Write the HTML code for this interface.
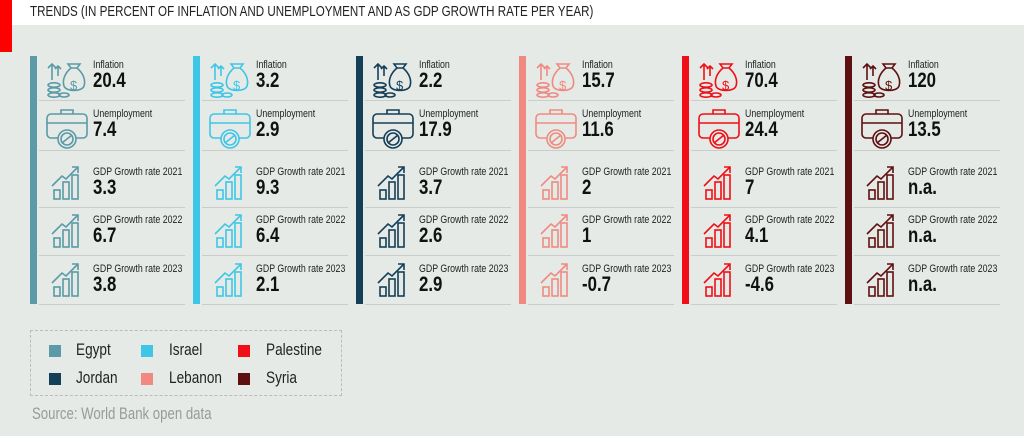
<!DOCTYPE html><html><head><meta charset="utf-8"><style>
body{margin:0;width:1024px;height:436px;overflow:hidden;background:#e5eae7;font-family:"Liberation Sans",sans-serif;position:relative}
.n{transform:scaleX(0.8);transform-origin:0 0;white-space:nowrap}
.hdr{position:absolute;left:0;top:0;width:1024px;height:25px;background:#fff}
.red{position:absolute;left:0;top:0;width:12px;height:52px;background:#f00}
.title{position:absolute;left:30px;top:4px;font-size:14.5px;color:#222}
.col{position:absolute;top:56px;width:160px;height:248px}
.bar{position:absolute;left:0;top:0;width:7px;height:248px}
.sep{position:absolute;left:9px;width:146px;height:1px;background:#c9ceca}
.lab{position:absolute;left:63px;font-size:11px;color:#222}
.val{position:absolute;left:63px;font-size:21px;font-weight:bold;color:#111}
svg.ic{position:absolute;left:14px}
.legend{position:absolute;left:30px;top:330px;width:312px;height:66px;border:1px dashed #bbb;box-sizing:border-box}
.lg{position:absolute;font-size:17px;color:#222}
.sw{position:absolute;width:12px;height:12px}
.src{position:absolute;left:32px;top:405px;font-size:16.5px;color:#999}
</style></head><body>
<div class="hdr"></div><div class="red"></div>
<div class="title n">TRENDS (IN PERCENT OF INFLATION AND UNEMPLOYMENT AND AS GDP GROWTH RATE PER YEAR)</div>
<div id="cols"></div>
<div class="legend">
<div class="sw" style="left:18px;top:14px;background:#5b9aa6"></div><div class="lg n" style="left:45px;top:9px">Egypt</div>
<div class="sw" style="left:110px;top:14px;background:#3ec6e6"></div><div class="lg n" style="left:138px;top:9px">Israel</div>
<div class="sw" style="left:207px;top:14px;background:#f00f16"></div><div class="lg n" style="left:235px;top:9px">Palestine</div>
<div class="sw" style="left:18px;top:42px;background:#143f57"></div><div class="lg n" style="left:45px;top:37px">Jordan</div>
<div class="sw" style="left:110px;top:42px;background:#f08a80"></div><div class="lg n" style="left:138px;top:37px">Lebanon</div>
<div class="sw" style="left:207px;top:42px;background:#5e1010"></div><div class="lg n" style="left:235px;top:37px">Syria</div>
</div>
<div class="src n">Source: World Bank open data</div>
<script>
var d=[["#5b9aa6","20.4","7.4","3.3","6.7","3.8"],["#3ec6e6","3.2","2.9","9.3","6.4","2.1"],["#143f57","2.2","17.9","3.7","2.6","2.9"],["#f08a80","15.7","11.6","2","1","-0.7"],["#f00f16","70.4","24.4","7","4.1","-4.6"],["#5e1010","120","13.5","n.a.","n.a.","n.a."]];
var h="";
d.forEach(function(c,i){var x=30+i*163,k=c[0];
function bag(){return '<svg class="ic" style="top:2px" width="46" height="42" viewBox="0 0 46 42" fill="none" stroke="'+k+'" stroke-width="1.6"><path d="M8 22V6M4 10l4-4 4 4M14 18V8M11 11l3-3 3 3"/><path d="M24 6l3 4h6l3-4zM27 10c-6 5-9 12-7 18 2 6 18 6 20 0 2-6-1-13-7-18"/><text x="26" y="32" font-size="13" fill="'+k+'" stroke="none" font-family="Liberation Sans">$</text><ellipse cx="10" cy="27" rx="6" ry="2.2"/><ellipse cx="10" cy="32" rx="6" ry="2.2"/><ellipse cx="10" cy="37" rx="6" ry="2.2"/><ellipse cx="20" cy="37" rx="5" ry="2"/></svg>';}
function case_(){return '<svg class="ic" style="top:50px" width="46" height="44" viewBox="0 0 46 44" fill="none" stroke="'+k+'" stroke-width="1.6"><path d="M17 8V4h12v4"/><rect x="3" y="8" width="40" height="24" rx="4"/><path d="M3 17h40"/><circle cx="23" cy="33" r="9" fill="#e5eae7"/><circle cx="23" cy="33" r="6"/><path d="M18 37l10-8"/></svg>';}
function chart(t){return '<svg class="ic" style="top:'+t+'px" width="46" height="38" viewBox="0 0 46 38" fill="none" stroke="'+k+'" stroke-width="1.6"><rect x="10" y="26" width="6" height="9"/><rect x="19" y="18" width="6" height="17"/><rect x="28" y="11" width="6" height="24"/><path d="M8 22l10-10 4 3 12-12M28 3h6v6"/></svg>';}
h+='<div class="col" style="left:'+x+'px"><div class="bar" style="background:'+k+'"></div>'+bag()+case_()+chart(108)+chart(156)+chart(205)
+'<div class="sep" style="top:44px"></div><div class="sep" style="top:94px"></div><div class="sep" style="top:151px"></div><div class="sep" style="top:199px"></div><div class="sep" style="top:248px"></div>'
+'<div class="lab n" style="top:3px">Inflation</div><div class="val n" style="top:13px">'+c[1]+'</div>'
+'<div class="lab n" style="top:52px">Unemployment</div><div class="val n" style="top:62px">'+c[2]+'</div>'
+'<div class="lab n" style="top:110px">GDP Growth rate 2021</div><div class="val n" style="top:120px">'+c[3]+'</div>'
+'<div class="lab n" style="top:158px">GDP Growth rate 2022</div><div class="val n" style="top:168px">'+c[4]+'</div>'
+'<div class="lab n" style="top:207px">GDP Growth rate 2023</div><div class="val n" style="top:217px">'+c[5]+'</div></div>';});
document.getElementById("cols").innerHTML=h;
</script></body></html>
